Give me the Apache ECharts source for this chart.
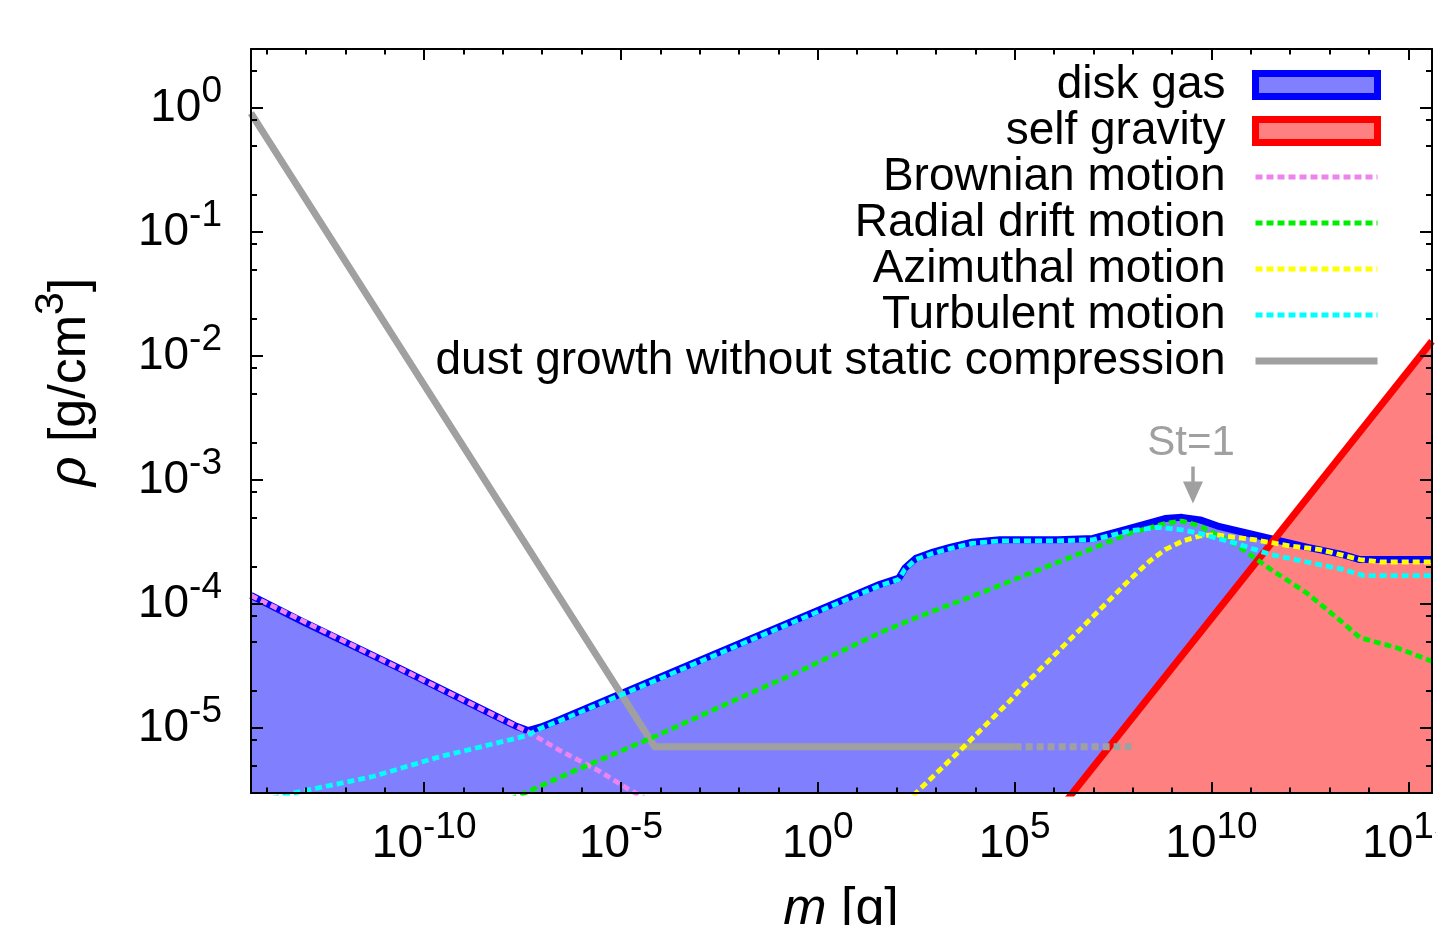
<!DOCTYPE html>
<html>
<head>
<meta charset="utf-8">
<script src="https://cdn.jsdelivr.net/npm/echarts@6/dist/echarts.min.js"></script>
<style>
html,body{margin:0;padding:0;background:#ffffff;}
#chart{width:1436px;height:925px;}
</style>
</head>
<body>
<div id="chart"></div>
<script>
// ---------- axis ranges and ticks (log10 units) ----------
const xRange = [Math.log10(4e-15), Math.log10(4e15)];
const yRange = [Math.log10(3e-6), Math.log10(3)];
const xMajorTicks = [-10, -5, 0, 5, 10, 15];
const yMajorTicks = [-5, -4, -3, -2, -1, 0];
const yMinorMantissas = [2, 5, 8];

// ---------- data: log10(m [g]) and log10(rho [g/cm^3]) ----------
const diskM   = [-14.40, -13.15, -10.61, -8.07, -7.69, -7.36, -7.03, -6.55, -4.01, -0.96, 1.58, 2.06, 2.21, 2.49, 2.93, 3.38, 3.92, 4.63, 6.10, 6.99, 7.90, 8.82, 9.25, 9.71, 10.16, 11.08, 12.42, 13.34, 13.77, 15.60];
const diskRho = [-3.93, -4.13, -4.52, -4.92, -4.98, -5.02, -4.99, -4.93, -4.59, -4.18, -3.84, -3.79, -3.71, -3.63, -3.58, -3.54, -3.50, -3.48, -3.48, -3.47, -3.39, -3.31, -3.30, -3.32, -3.37, -3.44, -3.54, -3.60, -3.64, -3.64];

const sgM   = [5.00, 15.60];
const sgRho = [-6.11, -1.88];

const brownM   = [-14.40, -10.61, -8.07, -7.36, -6.55, -5.53, -4.77, -4.01];
const brownRho = [-3.93, -4.52, -4.92, -5.03, -5.18, -5.35, -5.50, -5.63];

const driftM   = [-8.33, -7.49, -6.22, -4.09, -2.08, -0.45, 1.58, 2.49, 4.30, 5.64, 6.99, 7.90, 8.82, 9.25, 9.71, 10.62, 11.51, 12.42, 13.34, 13.77, 14.69, 15.60];
const driftRho = [-5.64, -5.53, -5.35, -5.06, -4.77, -4.54, -4.23, -4.11, -3.89, -3.72, -3.55, -3.43, -3.35, -3.33, -3.37, -3.52, -3.72, -3.91, -4.15, -4.27, -4.35, -4.46];

const aziM   = [1.83, 2.37, 3.71, 4.91, 5.19, 6.99, 7.90, 8.44, 8.82, 9.27, 9.71, 10.09, 11.08, 11.99, 12.76, 13.77, 14.28, 15.60];
const aziRho = [-5.73, -5.56, -5.15, -4.77, -4.67, -4.10, -3.81, -3.65, -3.56, -3.49, -3.45, -3.44, -3.48, -3.53, -3.56, -3.64, -3.66, -3.66];

const turbM   = [-14.40, -13.28, -11.30, -9.60, -7.90, -7.39, -7.03, -6.55, -4.01, -0.96, 1.58, 2.06, 2.21, 2.49, 2.93, 3.38, 3.92, 4.63, 6.10, 6.99, 7.90, 8.64, 9.25, 9.71, 10.16, 10.62, 11.51, 12.42, 13.34, 13.87, 15.60];
const turbRho = [-5.61, -5.52, -5.39, -5.23, -5.10, -5.06, -5.00, -4.94, -4.60, -4.19, -3.85, -3.80, -3.72, -3.64, -3.59, -3.55, -3.51, -3.49, -3.49, -3.48, -3.41, -3.38, -3.40, -3.43, -3.47, -3.51, -3.60, -3.66, -3.72, -3.77, -3.77];

const dustM   = [-14.40, -4.14, 5.00];
const dustRho = [-0.04, -5.15, -5.15];
const dustExtM   = [5.00, 8.00];
const dustExtRho = [-5.15, -5.15];

// St=1 annotation (log10 coordinates)
const stLabel = 'St=1';
const stLabelM = 9.48, stLabelRho = -2.70;
const stArrowM = 9.53, stArrowRho = [-2.89, -3.10];

// legend names
const names = ['disk gas', 'self gravity', 'Brownian motion', 'Radial drift motion', 'Azimuthal motion', 'Turbulent motion', 'dust growth without static compression'];

// ---------- build ----------
const FONT = '"Liberation Sans", Arial, Helvetica, sans-serif';
const zip = (a, b) => a.map((v, i) => [v, b[i]]);

const xMinorTicks = [];
for (let k = Math.ceil(xRange[0]); k <= Math.floor(xRange[1]); k++) if (k % 5 !== 0) xMinorTicks.push(k);
const yMinorTicks = [];
for (let n = Math.floor(yRange[0]); n <= Math.ceil(yRange[1]); n++) {
  yMinorMantissas.forEach(mt => { const v = n - 1 + Math.log10(mt); if (v > yRange[0] && v < yRange[1]) yMinorTicks.push(v); });
}

const supRich = {
  n: {fontSize: 46, lineHeight: 70, fontFamily: FONT, color: '#000'},
  s: {fontSize: 37, lineHeight: 37, verticalAlign: 'top', fontFamily: FONT, color: '#000'}
};
const fmtPow = v => '{n|10}{s|' + Math.round(v) + '}';

function axis(kind, pos, ticks, len, withLabels, showLine) {
  const r = kind === 'x' ? xRange : yRange;
  return {
    type: 'value', position: pos, min: r[0], max: r[1], z: 10, scale: true,
    axisLine: {show: showLine, onZero: false, lineStyle: {color: '#000', width: 2}},
    axisTick: {show: true, inside: true, length: len, customValues: ticks, lineStyle: {color: '#000', width: 2}},
    axisLabel: withLabels ? {show: true, customValues: ticks, margin: kind === 'x' ? 16 : 29,
      formatter: fmtPow, rich: supRich} : {show: false},
    splitLine: {show: false},
    minorTick: {show: false},
    axisPointer: {show: false}
  };
}

const dashed = [7, 4];
const DW = 4.8;
const lineSeries = (name, data, color, width, type) => ({
  name, type: 'line', data, symbol: 'none', silent: true, clip: true,
  lineStyle: {color, width, type: type || 'solid', cap: 'butt', join: 'round'},
  itemStyle: {color}, emphasis: {disabled: true}
});

const option = {
  animation: false,
  backgroundColor: '#ffffff',
  grid: {left: 251, top: 49, width: 1181, height: 744, show: false, containLabel: false, outerBoundsMode: 'none'},
  xAxis: [
    axis('x', 'bottom', xMajorTicks, 11, true, true),
    axis('x', 'bottom', xMinorTicks, 5.5, false, false),
    axis('x', 'top', xMajorTicks, 11, false, true),
    axis('x', 'top', xMinorTicks, 5.5, false, false)
  ],
  yAxis: [
    axis('y', 'left', yMajorTicks, 12, true, true),
    axis('y', 'left', yMinorTicks, 6, false, false),
    axis('y', 'right', yMajorTicks, 12, false, true),
    axis('y', 'right', yMinorTicks, 6, false, false)
  ],
  legend: {
    orient: 'vertical', align: 'right', right: 55, top: 62, padding: 0, itemGap: 0,
    itemWidth: 122, itemHeight: 23, selectedMode: false,
    textStyle: {fontSize: 46, fontFamily: FONT, color: '#000', lineHeight: 46, rich: {g: {width: 25, fontSize: 46}}},
    formatter: name => name + '{g| }',
    data: [
      {name: names[0], icon: 'rect', itemStyle: {color: '#8080ff', borderColor: '#0000ff', borderWidth: 7, opacity: 1}},
      {name: names[1], icon: 'rect', itemStyle: {color: '#ff8080', borderColor: '#ff0000', borderWidth: 7, opacity: 1}},
      {name: names[2], itemStyle: {opacity: 0}, lineStyle: {color: '#ee82ee', width: DW, type: dashed, opacity: 1}},
      {name: names[3], itemStyle: {opacity: 0}, lineStyle: {color: '#00ee00', width: DW, type: dashed, opacity: 1}},
      {name: names[4], itemStyle: {opacity: 0}, lineStyle: {color: '#ffff00', width: DW, type: dashed, opacity: 1}},
      {name: names[5], itemStyle: {opacity: 0}, lineStyle: {color: '#00ffff', width: DW, type: dashed, opacity: 1}},
      {name: names[6], itemStyle: {opacity: 0}, lineStyle: {color: '#a0a0a0', width: 7, type: 'solid', opacity: 1}}
    ]
  },
  graphic: [
    {type: 'text', x: 841, y: 910, z: 20, silent: true,
      style: {text: '{i|m}{n| [g]}', align: 'center', verticalAlign: 'middle', fill: '#000',
        fontSize: 52, fontFamily: FONT,
        rich: {i: {fontSize: 52, fontStyle: 'italic', fontFamily: FONT, fill: '#000', color: '#000'},
               n: {fontSize: 52, fontFamily: FONT, fill: '#000', color: '#000'}}}},
    {type: 'text', x: 71, y: 382, rotation: Math.PI / 2, z: 20, silent: true,
      style: {text: '{i|ρ}{n| [g/cm}{s|3}{n|]}', align: 'center', verticalAlign: 'middle', fill: '#000',
        fontSize: 52, fontFamily: FONT,
        rich: {i: {fontSize: 52, lineHeight: 80, fontStyle: 'italic', fontFamily: FONT, color: '#000'},
               n: {fontSize: 52, lineHeight: 80, fontFamily: FONT, color: '#000'},
               s: {fontSize: 41, lineHeight: 41, verticalAlign: 'top', fontFamily: FONT, color: '#000'}}}}
  ],
  series: [
    {name: names[0], type: 'line', data: zip(diskM, diskRho), symbol: 'none', silent: true, clip: true,
      lineStyle: {width: 0, opacity: 0}, areaStyle: {color: '#8080ff', opacity: 1, origin: 'start'},
      itemStyle: {color: '#8080ff'}, emphasis: {disabled: true}},
    {name: names[1], type: 'line', data: zip(sgM, sgRho), symbol: 'none', silent: true, clip: true,
      lineStyle: {width: 0, opacity: 0}, areaStyle: {color: '#ff8080', opacity: 1, origin: 'start'},
      itemStyle: {color: '#ff8080'}, emphasis: {disabled: true}},
    lineSeries(names[0], zip(diskM, diskRho), '#0000ff', 7),
    lineSeries(names[1], zip(sgM, sgRho), '#ff0000', 7),
    Object.assign(lineSeries(names[6], zip(dustM, dustRho), '#a0a0a0', 7), {
      markLine: {silent: true, animation: false, symbol: ['none', 'triangle'], symbolSize: [20, 22],
        lineStyle: {color: '#a0a0a0', width: 3.5, type: 'solid'}, label: {show: false},
        emphasis: {disabled: true},
        data: [[{coord: [stArrowM, stArrowRho[0]]}, {coord: [stArrowM, stArrowRho[1]]}]]},
      markPoint: {silent: true, animation: false, symbol: 'circle', symbolSize: 1,
        itemStyle: {color: 'rgba(0,0,0,0)'},
        label: {show: true, position: 'inside', formatter: stLabel, fontSize: 42, fontFamily: FONT, color: '#a0a0a0'},
        data: [{coord: [stLabelM, stLabelRho]}]}
    }),
    lineSeries(names[6], zip(dustExtM, dustExtRho), '#a0a0a0', 7, dashed),
    lineSeries(names[2], zip(brownM, brownRho), '#ee82ee', DW, dashed),
    lineSeries(names[3], zip(driftM, driftRho), '#00ee00', DW, dashed),
    lineSeries(names[4], zip(aziM, aziRho), '#ffff00', DW, dashed),
    lineSeries(names[5], zip(turbM, turbRho), '#00ffff', DW, dashed)
  ]
};

const chart = echarts.init(document.getElementById('chart'), null, {renderer: 'canvas', width: 1436, height: 925});
chart.setOption(option);
</script>
</body>
</html>
